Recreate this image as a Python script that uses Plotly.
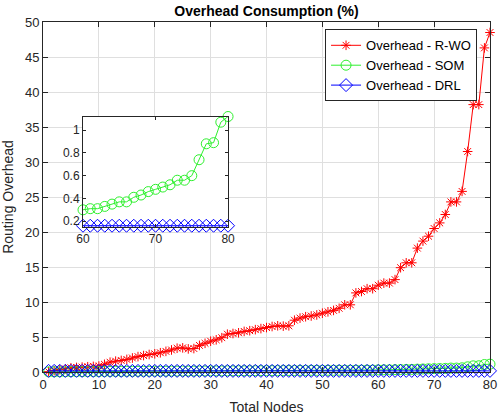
import plotly.graph_objects as go

nodes = list(range(1, 81))

rwo = [0.05, 0.2, 0.35, 0.45, 0.6, 0.65, 0.7, 0.75, 0.8, 0.85,
       1.1, 1.4, 1.55, 1.65, 1.8, 2.0, 2.2, 2.35, 2.5, 2.6,
       2.75, 2.95, 3.15, 3.4, 3.45, 3.3, 3.35, 3.8, 4.1, 4.4,
       4.6, 4.9, 5.4, 5.5, 5.6, 5.8, 5.9, 6.05, 6.2, 6.35,
       6.5, 6.6, 6.55, 6.6, 7.4, 7.7, 7.9, 8.0, 8.15, 8.4,
       8.6, 8.8, 9.1, 9.6, 9.6, 11.3, 11.5, 11.9, 11.9, 12.4,
       12.7, 12.7, 13.2, 14.9, 15.6, 15.6, 17.7, 18.7, 19.4, 20.5,
       21.3, 22.5, 24.3, 24.3, 25.8, 31.5, 38.2, 38.2, 46.3, 48.5]

som = [0.02, 0.03, 0.03, 0.04, 0.05, 0.05, 0.06, 0.06, 0.07, 0.07,
       0.08, 0.08, 0.09, 0.09, 0.10, 0.10, 0.10, 0.11, 0.11, 0.12,
       0.12, 0.12, 0.13, 0.13, 0.14, 0.14, 0.14, 0.15, 0.15, 0.16,
       0.16, 0.16, 0.17, 0.17, 0.18, 0.18, 0.18, 0.19, 0.19, 0.20,
       0.20, 0.20, 0.21, 0.21, 0.21, 0.22, 0.22, 0.23, 0.23, 0.23,
       0.24, 0.24, 0.25, 0.25, 0.25, 0.26, 0.26, 0.27, 0.27, 0.30,
       0.31, 0.31, 0.33, 0.35, 0.37, 0.37, 0.41, 0.43, 0.46, 0.48,
       0.50, 0.52, 0.56, 0.56, 0.60, 0.74, 0.88, 0.89, 1.07, 1.12]

drl = [0.16, 0.16, 0.16, 0.16, 0.16, 0.16, 0.16, 0.16, 0.16, 0.16,
       0.16, 0.16, 0.16, 0.16, 0.16, 0.16, 0.16, 0.16, 0.16, 0.16,
       0.16, 0.16, 0.16, 0.16, 0.16, 0.16, 0.16, 0.16, 0.16, 0.16,
       0.16, 0.16, 0.16, 0.16, 0.16, 0.16, 0.16, 0.16, 0.16, 0.16,
       0.16, 0.16, 0.16, 0.16, 0.16, 0.16, 0.16, 0.16, 0.16, 0.16,
       0.16, 0.16, 0.16, 0.16, 0.16, 0.16, 0.16, 0.16, 0.16, 0.16,
       0.16, 0.16, 0.16, 0.16, 0.16, 0.16, 0.16, 0.16, 0.16, 0.16,
       0.16, 0.16, 0.16, 0.16, 0.16, 0.16, 0.16, 0.16, 0.16, 0.16]

x_ticks = [0, 10, 20, 30, 40, 50, 60, 70, 80]
y_ticks = [0, 5, 10, 15, 20, 25, 30, 35, 40, 45, 50]
inset_x_ticks = [60, 70, 80]
inset_y_ticks = [0.2, 0.4, 0.6, 0.8, 1]
inset_start = 60

names = ["Overhead - R-WO", "Overhead - SOM", "Overhead - DRL"]
colors = ["#FF0000", "#2EF02E", "#0000FF"]
symbols = ["asterisk-open", "circle-open", "diamond-open"]
sizes = [8, 10, 10]

FONT = "Liberation Sans, Arial, sans-serif"
AX = "#262626"

fig = go.Figure()
for name, ys, c, s, sz in zip(names, [rwo, som, drl], colors, symbols, sizes):
    fig.add_trace(go.Scatter(
        x=nodes, y=ys, name=name, mode="lines+markers",
        line=dict(color=c, width=1),
        marker=dict(symbol=s, size=sz, color=c, line=dict(color=c, width=1)),
        xaxis="x", yaxis="y", cliponaxis=False))

i0 = nodes.index(inset_start)
for ys, c, s, sz in zip([som, drl], colors[1:], symbols[1:], sizes[1:]):
    fig.add_trace(go.Scatter(
        x=nodes[i0:], y=ys[i0:], mode="lines+markers", showlegend=False,
        line=dict(color=c, width=1),
        marker=dict(symbol=s, size=sz, color=c, line=dict(color=c, width=1)),
        xaxis="x2", yaxis="y2", cliponaxis=False))

axis_common = dict(showline=True, linecolor=AX, linewidth=1, mirror="allticks",
                   ticks="inside", ticklen=5, tickcolor=AX,
                   tickfont=dict(family=FONT, size=13, color=AX),
                   zeroline=False, automargin=False)
inset_common = {**axis_common, "tickfont": dict(family=FONT, size=12, color=AX), "ticklen": 3}

fig.update_layout(
    width=500, height=415,
    margin=dict(l=43, r=10, t=22, b=43, autoexpand=False),
    paper_bgcolor="white", plot_bgcolor="white",
    title=dict(text="<b>Overhead Consumption (%)</b>", x=0.5, xref="paper", xanchor="center",
               y=0.985, yanchor="top",
               font=dict(family=FONT, size=14, color="black")),
    xaxis=dict(range=[0, 80], tickvals=x_ticks, showgrid=True, gridcolor="#DFDFDF",
               title=dict(text="Total Nodes", font=dict(family=FONT, size=14, color=AX)),
               domain=[0, 1], **axis_common),
    yaxis=dict(range=[0, 50], tickvals=y_ticks, showgrid=True, gridcolor="#DFDFDF",
               title=dict(text="Routing Overhead", font=dict(family=FONT, size=14, color=AX)),
               domain=[0, 1], **axis_common),
    xaxis2=dict(range=[60, 80], tickvals=inset_x_ticks, showgrid=False,
                domain=[0.0895, 0.414], anchor="y2", **inset_common),
    yaxis2=dict(range=[0.145, 1.12], tickvals=inset_y_ticks, ticktext=["0.2", "0.4", "0.6", "0.8", "1"],
                showgrid=False, domain=[0.413, 0.730], anchor="x2", **inset_common),
    legend=dict(x=0.971, y=0.979, xanchor="right", yanchor="top",
                bgcolor="white", bordercolor=AX, borderwidth=1,
                font=dict(family=FONT, size=13, color="black"),
                tracegroupgap=0),
    showlegend=True,
)

fig.write_html("out.html", config={"displayModeBar": False},
               post_script="document.body.style.margin='0px';")
